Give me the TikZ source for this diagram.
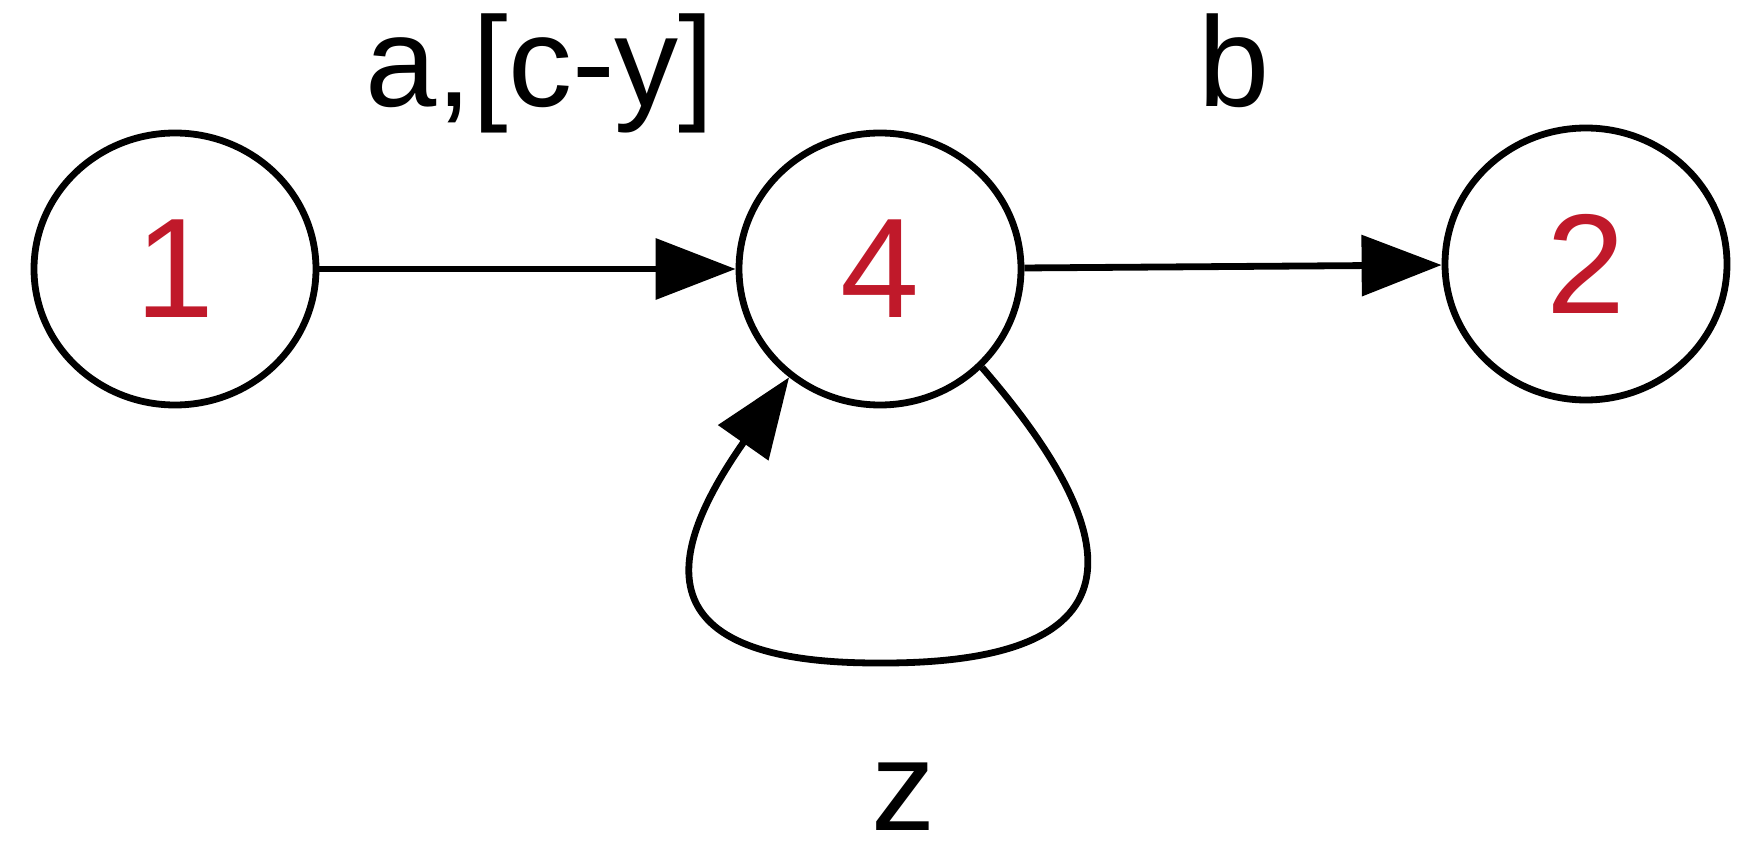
\documentclass[tikz,border=0pt]{standalone}
\usepackage{fontspec}
\setmainfont{Liberation Sans}
\usetikzlibrary{arrows.meta,shapes.geometric}
\definecolor{statered}{HTML}{C0192A}
\begin{document}
\begin{tikzpicture}[x=0.5pt,y=-0.5pt,
  state/.style={ellipse,draw,line width=3.4pt,minimum width=141pt,minimum height=136pt,inner sep=0pt,
    text=statered,font=\fontsize{71}{75}\selectfont},
  edge/.style={line width=3.4pt,-{Triangle[length=40pt,width=30pt]}},
  lbl/.style={anchor=base,inner sep=0pt,font=\fontsize{64}{68}\selectfont}]
\useasboundingbox (0,0) rectangle (1751,844);
\node[state] (n1) at (175,269) {1};
\node[state] (n4) at (880,269) {4};
\node[state] (n2) at (1586,264) {2};
\draw[edge] (n1) -- (n4);
\draw[edge] (n4) -- (n2);
\draw[edge] (n4.-44) .. controls (1110,515) and (1170,665) .. (877,663)
  .. controls (630,663) and (673,543) .. (n4.-130);
\node[lbl] (l1) at (540,107) {a,[c-y]};
\node[lbl] (l2) at (1234,107) {b};
\node[lbl] (l3) at (903,830) {z};
\end{tikzpicture}
\end{document}
